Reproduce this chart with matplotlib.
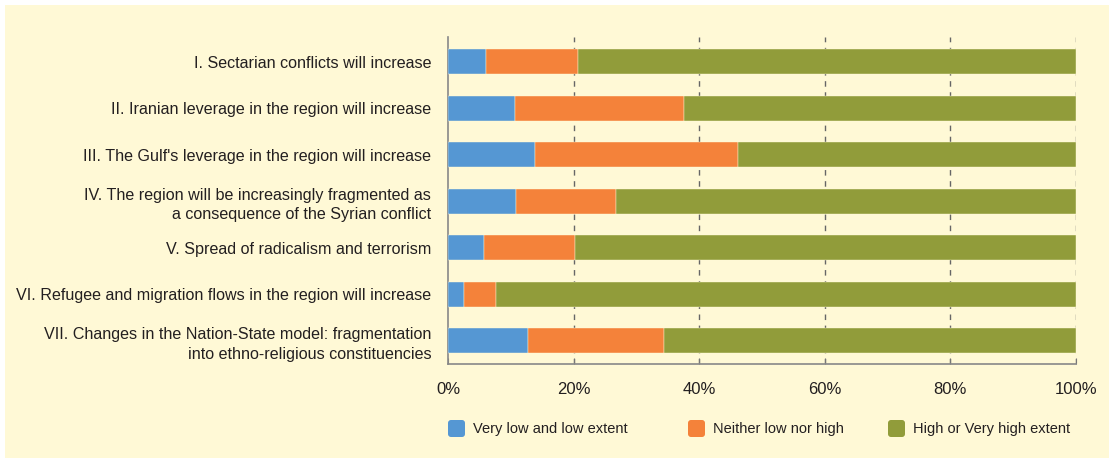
import numpy as np
import matplotlib.pyplot as plt
from matplotlib.patches import Rectangle, FancyBboxPatch

plt.rcParams['font.family'] = ['Liberation Sans', 'DejaVu Sans']

labels = [
    "I. Sectarian conflicts will increase",
    "II. Iranian leverage in the region will increase",
    "III. The Gulf's leverage in the region will increase",
    "IV. The region will be increasingly fragmented as\na consequence of the Syrian conflict",
    "V. Spread of radicalism and terrorism",
    "VI. Refugee and migration flows in the region will increase",
    "VII. Changes in the Nation-State model: fragmentation\ninto ethno-religious constituencies",
]
low = np.array([6.0, 10.7, 13.9, 10.8, 5.8, 2.6, 12.8])
neither = np.array([14.65, 26.9, 32.3, 16.0, 14.4, 5.1, 21.6])
high = 100 - low - neither

series = ["Very low and low extent", "Neither low nor high", "High or Very high extent"]
colors = ["#5597D3", "#F4823A", "#919C3A"]
ticks = [0, 20, 40, 60, 80, 100]

bg = "#FFF9D6"
txt = "#231F20"

fig = plt.figure(figsize=(11.09, 4.59), dpi=100, facecolor="white")
fig.patches.append(Rectangle((5 / 1109, 1 / 459), 1, 453 / 459,
                             transform=fig.transFigure, facecolor=bg,
                             edgecolor="none", zorder=-10))

ax = fig.add_axes([448 / 1109, 1 - 364 / 459, 628 / 1109, 327 / 459])
ax.set_facecolor(bg)
ax.patch.set_alpha(0)

y = np.arange(len(labels))
left = np.zeros(len(labels))
for vals, c in zip([low, neither, high], colors):
    ax.barh(y, vals, left=left, height=0.54, color=c, edgecolor="#FFF9D6",
            linewidth=0.3, zorder=3)
    left += vals

ax.set_xlim(0, 100)
ax.set_ylim(6.5, -0.53)
ax.set_xticks(ticks)
ax.set_xticklabels([f"{t}%" for t in ticks], fontsize=12, color=txt)
ax.set_yticks(y)
ax.set_yticklabels(labels, fontsize=11.6, color=txt, linespacing=1.4)
ax.tick_params(axis="y", length=0, pad=12)
ax.tick_params(axis="x", direction="in", length=4, color="#777777", pad=13)

for t in ticks[1:]:
    ax.axvline(t, color="#666666", linewidth=1.0, linestyle=(0, (4, 4)), zorder=1)

for s in ["top", "right"]:
    ax.spines[s].set_visible(False)
for s in ["left", "bottom"]:
    ax.spines[s].set_color("#888888")
    ax.spines[s].set_linewidth(1.2)

# legend
leg_x = [4.48, 6.88, 8.88]
for x0, name, c in zip(leg_x, series, colors):
    fig.patches.append(FancyBboxPatch((x0, 0.22), 0.17, 0.17,
                                      boxstyle="round,pad=0,rounding_size=0.03",
                                      transform=fig.dpi_scale_trans,
                                      facecolor=c, edgecolor="none"))
    fig.text(x0 + 0.25, 0.305, name, transform=fig.dpi_scale_trans,
             fontsize=10.5, color=txt, va="center", ha="left")

fig.savefig("out.png", dpi=100, facecolor="white")
